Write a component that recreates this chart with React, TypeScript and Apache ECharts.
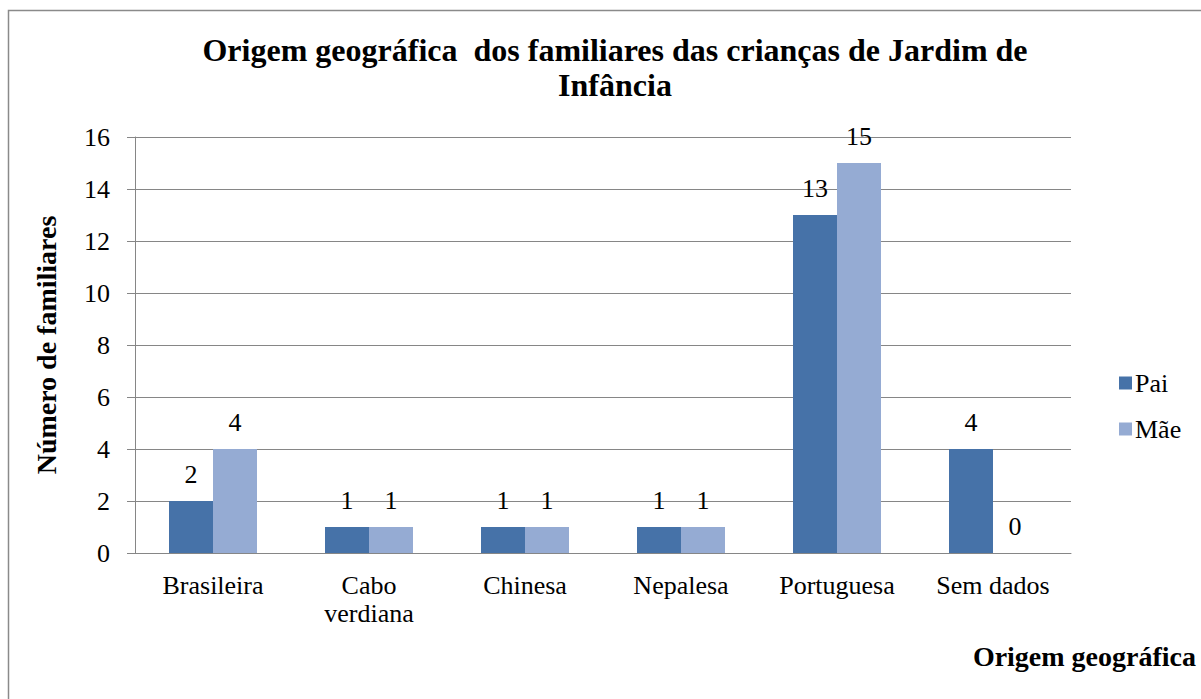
import React, { useEffect, useRef } from "react";
import * as echarts from "echarts";

const categories = ["Brasileira", "Cabo\nverdiana", "Chinesa", "Nepalesa", "Portuguesa", "Sem dados"];
const paiValues = [2, 1, 1, 1, 13, 4];
const maeValues = [4, 1, 1, 1, 15, 0];
const seriesNames = ["Pai", "Mãe"];
const titleText = "Origem geográfica  dos familiares das crianças de Jardim de\nInfância";
const yAxisName = "Número de familiares";
const xAxisName = "Origem geográfica";

const FONT = "Liberation Serif";

export default function App() {
  const ref = useRef<HTMLDivElement>(null);
  useEffect(() => {
    if (!ref.current) return;
    const chart = echarts.init(ref.current, undefined, { renderer: "svg" });
    const labelStyle = {
      show: true,
      position: "top" as const,
      distance: 14,
      fontSize: 26,
      lineHeight: 26,
      color: "#000",
      fontFamily: FONT,
    };
    chart.setOption({
      animation: false,
      backgroundColor: "#fff",
      textStyle: { fontFamily: FONT, color: "#000" },
      title: {
        text: titleText,
        left: 610,
        top: 27,
        textAlign: "center",
        textStyle: {
          fontFamily: FONT,
          fontSize: 32,
          fontWeight: "bold",
          color: "#000",
          lineHeight: 35,
        },
      },
      legend: {
        orient: "vertical",
        left: 1114,
        top: 365,
        itemWidth: 13,
        itemHeight: 13,
        itemGap: 20,
        icon: "rect",
        data: seriesNames,
        textStyle: { fontFamily: FONT, fontSize: 26, lineHeight: 26, color: "#000", padding: [0, 0, 0, -2] },
      },
      grid: { left: 135, right: 130, top: 137, bottom: 146, containLabel: false },
      xAxis: {
        type: "category",
        data: categories,
        axisLine: { show: true, lineStyle: { color: "#868686", width: 1 } },
        axisTick: { show: false },
        axisLabel: {
          fontFamily: FONT,
          fontSize: 26,
          lineHeight: 28,
          color: "#000",
          margin: 18,
          interval: 0,
        },
      },
      yAxis: {
        type: "value",
        min: 0,
        max: 16,
        interval: 2,
        name: yAxisName,
        nameLocation: "middle",
        nameGap: 75,
        nameTextStyle: { fontFamily: FONT, fontSize: 28, fontWeight: "bold", color: "#000" },
        axisLine: { show: true, lineStyle: { color: "#868686", width: 1 } },
        axisTick: { show: true, length: 8, lineStyle: { color: "#868686" } },
        axisLabel: { fontFamily: FONT, fontSize: 26, color: "#000", margin: 25 },
        splitLine: { show: true, lineStyle: { color: "#868686", width: 1 } },
      },
      series: [
        {
          name: seriesNames[0],
          type: "bar",
          data: paiValues,
          barWidth: 44,
          barGap: "0%",
          itemStyle: { color: "#4672a8" },
          label: labelStyle,
        },
        {
          name: seriesNames[1],
          type: "bar",
          data: maeValues,
          barWidth: 44,
          barGap: "0%",
          itemStyle: { color: "#95abd3" },
          label: labelStyle,
        },
      ],
      graphic: [
        {
          type: "rect",
          shape: { x: 8.5, y: 10.5, width: 1300, height: 800 },
          style: { fill: "none", stroke: "#8a8a8a", lineWidth: 1.5 },
          silent: true,
          z: 100,
        },
        {
          type: "text",
          x: 1196,
          y: 656,
          style: {
            text: xAxisName,
            fontFamily: FONT,
            fontSize: 28,
            fontWeight: "bold",
            fill: "#000",
            align: "right",
            verticalAlign: "middle",
          },
        },
      ],
    });
    return () => chart.dispose();
  }, []);
  return (
    <div
      ref={ref}
      style={{ position: "fixed", left: 0, top: 0, width: 1201, height: 699 }}
    />
  );
}
